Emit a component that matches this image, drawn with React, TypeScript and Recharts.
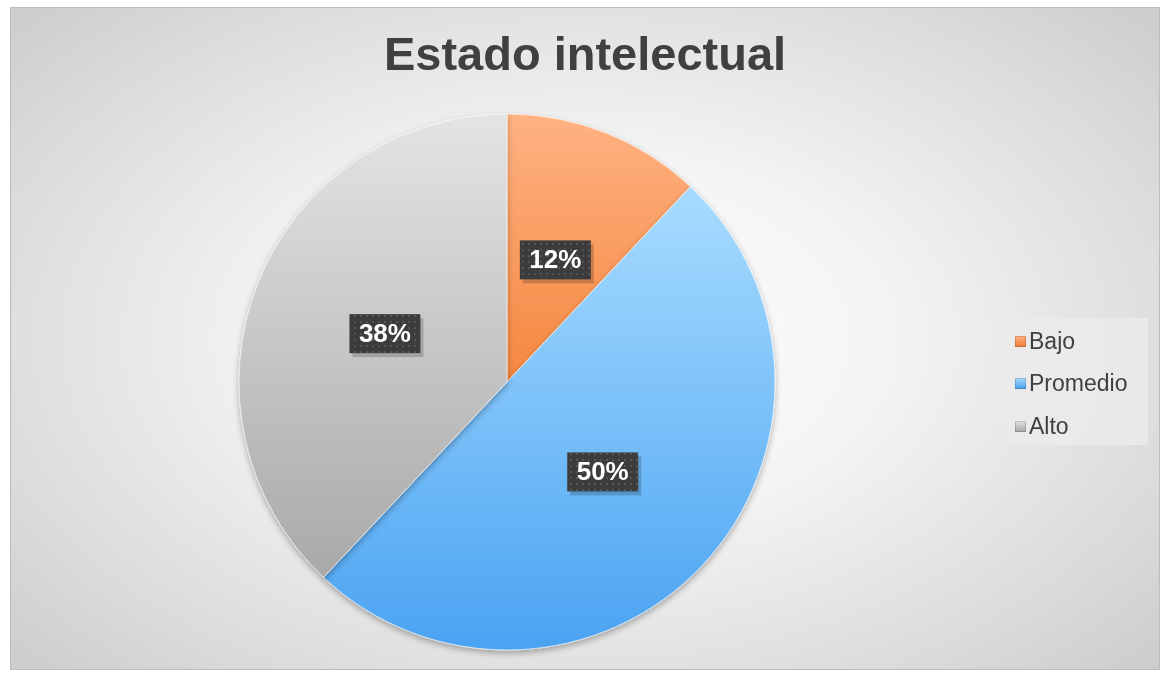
import { PieChart, Pie, Cell, Legend } from 'recharts'

const categories = ['Bajo', 'Promedio', 'Alto']
const values = [12, 50, 38]

const GRADS = [
  { id: 'gBajo', top: '#ffb283', bottom: '#f5873f', marker: '#ee7a35' },
  { id: 'gProm', top: '#a8dcff', bottom: '#4aa3f2', marker: '#4a9fe8' },
  { id: 'gAlto', top: '#e4e4e4', bottom: '#a9a9a9', marker: '#a5a5a5' },
]

const data = categories.map((name, i) => ({ name, value: values[i] }))

const RADIAN = Math.PI / 180

function renderLabel(props: any) {
  const { cx, cy, midAngle, outerRadius, percent } = props
  const r = outerRadius * 0.49
  const x = cx + r * Math.cos(-midAngle * RADIAN)
  const y = cy + r * Math.sin(-midAngle * RADIAN)
  const w = 71
  const h = 39
  return (
    <g>
      <rect x={x - w / 2 + 3} y={y - h / 2 + 4} width={w} height={h} fill="rgba(0,0,0,0.18)" />
      <rect x={x - w / 2} y={y - h / 2} width={w} height={h} fill="url(#dots)" />
      <text
        x={x}
        y={y + 1}
        fill="#ffffff"
        textAnchor="middle"
        dominantBaseline="middle"
        fontFamily="Liberation Sans, Arial, sans-serif"
        fontWeight="bold"
        fontSize={26}
      >
        {`${Math.round(percent * 100)}%`}
      </text>
    </g>
  )
}

function LegendBox() {
  return (
    <div
      style={{
        background: 'rgba(235,235,235,0.8)',
        width: 142,
        height: 127,
        boxSizing: 'border-box',
        paddingTop: 2,
        paddingLeft: 9,
        fontFamily: 'Liberation Sans, Arial, sans-serif',
        fontSize: 23,
        color: '#404040',
      }}
    >
      {categories.map((c, i) => (
        <div key={c} style={{ display: 'flex', alignItems: 'center', height: 42.5 }}>
          <span
            style={{
              display: 'inline-block',
              width: 11,
              height: 11,
              marginRight: 3,
              background: `linear-gradient(to bottom, ${GRADS[i].top}, ${GRADS[i].marker})`,
              boxShadow: 'inset 0 0 0 1px rgba(0,0,0,0.15)',
            }}
          />
          {c}
        </div>
      ))}
    </div>
  )
}

export default function App() {
  return (
    <div
      style={{
        position: 'fixed',
        left: 10,
        top: 7,
        width: 1150,
        height: 663,
        border: '1px solid #bdbdbd',
        boxSizing: 'border-box',
        background:
          'radial-gradient(ellipse 75% 80% at 50% 50%, #ffffff 0%, #f4f4f4 35%, #dcdcdc 70%, #c6c6c6 100%)',
      }}
    >
      <div
        style={{
          position: 'absolute',
          left: 0,
          right: 0,
          top: 18,
          textAlign: 'center',
          fontFamily: 'Liberation Sans, Arial, sans-serif',
          fontWeight: 'bold',
          fontSize: 47,
          color: '#404040',
        }}
      >
        Estado intelectual
      </div>
      <PieChart
        width={1148}
        height={661}
        margin={{ top: 0, right: 0, bottom: 0, left: 0 }}
        style={{ position: 'absolute', left: 0, top: 0 }}
      >
        <defs>
          {GRADS.map(g => (
            <linearGradient key={g.id} id={g.id} x1="0" y1="0" x2="0" y2="1">
              <stop offset="0%" stopColor={g.top} />
              <stop offset="100%" stopColor={g.bottom} />
            </linearGradient>
          ))}
          <pattern id="dots" width="6" height="6" patternUnits="userSpaceOnUse">
            <rect width="6" height="6" fill="#3c3c3c" />
            <rect x="1" y="1" width="2" height="2" fill="#555555" />
          </pattern>
          <filter id="pieShadow" x="-10%" y="-10%" width="120%" height="120%">
            <feDropShadow dx="0" dy="3" stdDeviation="3" floodColor="#000" floodOpacity="0.3" />
          </filter>
        </defs>
        <Pie
          data={data}
          dataKey="value"
          nameKey="name"
          cx={496}
          cy={374}
          outerRadius={268}
          startAngle={90}
          endAngle={-270}
          stroke="rgba(255,255,255,0.6)"
          strokeWidth={1}
          label={renderLabel}
          labelLine={false}
          isAnimationActive={false}
          style={{ filter: 'url(#pieShadow)' }}
        >
          {data.map((_, i) => (
            <Cell key={i} fill={`url(#${GRADS[i].id})`} />
          ))}
        </Pie>
        <Legend
          content={() => <LegendBox />}
          wrapperStyle={{ position: 'absolute', left: 995, top: 310, width: 142, height: 127 }}
        />
      </PieChart>
    </div>
  )
}
